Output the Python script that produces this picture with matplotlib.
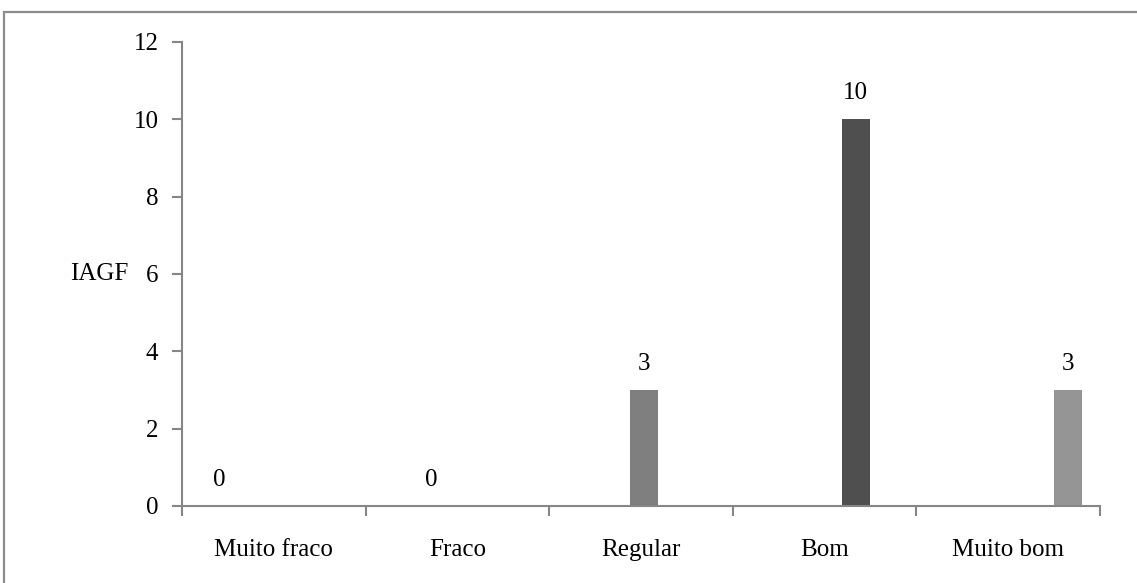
import numpy as np
import matplotlib
matplotlib.use("Agg")
import matplotlib.pyplot as plt
from matplotlib.patches import Rectangle

categories = ["Muito fraco", "Fraco", "Regular", "Bom", "Muito bom"]
values = [0, 0, 3, 10, 3]
bar_colors = ["#a6a6a6", "#6e6e6e", "#7f7f7f", "#4f4f4f", "#959595"]
y_ticks = [0, 2, 4, 6, 8, 10, 12]

plt.rcParams['font.family'] = ['Liberation Serif', 'DejaVu Serif']

fig = plt.figure(figsize=(11.37, 5.83), dpi=100)
ax = fig.add_axes([182 / 1137, 1 - 506 / 583, (1100 - 182) / 1137, (506 - 42) / 583])

# outer frame of the chart area (open on right and bottom)
fig.patches.append(Rectangle((4 / 1137, -0.5), 2.0, 1.5 - 12 / 583, transform=fig.transFigure,
                             fill=False, edgecolor="#8c8c8c", linewidth=1.6))

w = 0.155
x = np.arange(len(categories))
for i, v in enumerate(values):
    xpos = x[i] + (i - 2) * w + 0.015
    ax.bar(xpos, v, width=w, color=bar_colors[i], linewidth=0)
    ax.annotate(str(v), (xpos, v), xytext=(0, 11), textcoords="offset points",
                ha="center", va="bottom", fontsize=18)

ax.set_xlim(-0.5, len(categories) - 0.5)
ax.set_ylim(0, 12)
ax.set_yticks(y_ticks)
ax.set_yticklabels([str(t) for t in y_ticks], fontsize=18)
ax.set_xticks(np.arange(len(categories) + 1) - 0.5)
ax.set_xticklabels([])
ax.set_xticks(x, minor=True)
ax.set_xticklabels(categories, minor=True, fontsize=18)
ax.tick_params(axis="x", which="minor", length=0, pad=24)
ax.tick_params(axis="x", which="major", length=7, width=1.5, color="#868686")
ax.tick_params(axis="y", length=7, width=1.5, color="#868686", pad=10)

for s in ["top", "right"]:
    ax.spines[s].set_visible(False)
for s in ["left", "bottom"]:
    ax.spines[s].set_color("#868686")
    ax.spines[s].set_linewidth(1.5)

fig.text(128 / 1137, 1 - 274 / 583, "IAGF", ha="right", va="center", fontsize=18)

fig.savefig("out.png", dpi=100)
